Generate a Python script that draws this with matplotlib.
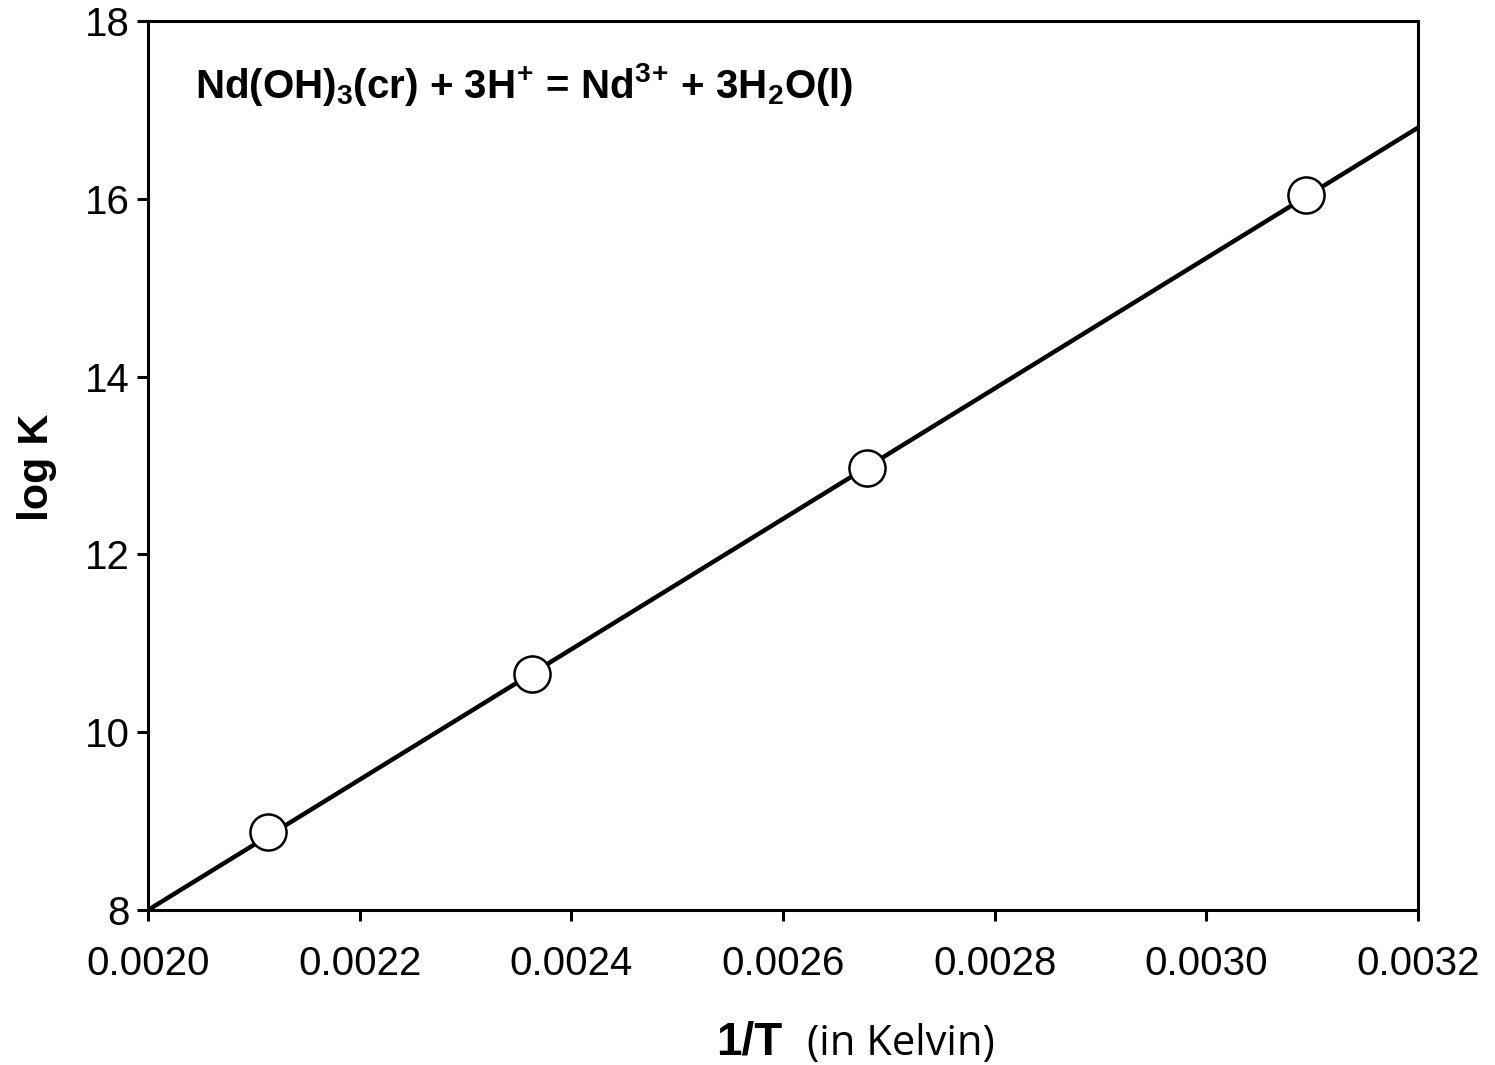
import matplotlib
matplotlib.use("Agg")
from matplotlib import pyplot as plt

# data
inv_T = [0.002113, 0.002363, 0.002679, 0.003094]
log_k = [8.88, 10.66, 12.97, 16.04]
fit_x = [0.0020, 0.0032]
fit_y = [8.0, 16.8]
x_ticks = [0.0020, 0.0022, 0.0024, 0.0026, 0.0028, 0.0030, 0.0032]
y_ticks = [8, 10, 12, 14, 16, 18]

plt.rcParams['font.family'] = 'Liberation Sans'
plt.rcParams['mathtext.fontset'] = 'custom'
plt.rcParams['mathtext.rm'] = 'Liberation Sans:bold'
plt.rcParams['mathtext.it'] = 'Liberation Sans:bold'
plt.rcParams['mathtext.bf'] = 'Liberation Sans:bold'

fig = plt.figure(figsize=(14.95, 10.65), dpi=100)
ax = fig.add_axes([0.099, 0.1455, 0.8495, 0.8348])

ax.plot(fit_x, fit_y, color='black', lw=3.2, zorder=2)
ax.plot(inv_T, log_k, 'o', ms=26, mfc='white', mec='black', mew=1.8, zorder=3, clip_on=False)

ax.set_xlim(0.0020, 0.0032)
ax.set_ylim(8, 18)
ax.set_xticks(x_ticks)
ax.set_xticklabels([f'{v:.4f}' for v in x_ticks])
ax.set_yticks(y_ticks)
ax.tick_params(axis='both', direction='out', length=8, width=2.2, labelsize=29)
ax.tick_params(axis='x', pad=17)
ax.tick_params(axis='y', pad=5)
for s in ax.spines.values():
    s.set_linewidth(2.2)

# axis titles
fig.text(0.025, 0.5615, 'log K', fontsize=31, fontweight='bold', rotation=90,
         ha='center', va='center')
fig.text(0.523, 0.0094, '1/T', fontsize=33, fontweight='bold', ha='right', va='baseline')
fig.text(0.540, 0.0094, '(in Kelvin)', fontsize=30, family='Open Sans', ha='left', va='baseline')

ax.text(0.037, 0.9134, r'Nd(OH)$_3$(cr) + 3H$^{\!+\!}$ = Nd$^{3\!+\!}$ + 3H$_2$O(l)',
        transform=ax.transAxes, fontsize=29, fontweight='bold', ha='left', va='baseline')

fig.savefig('out.png', dpi=100)
